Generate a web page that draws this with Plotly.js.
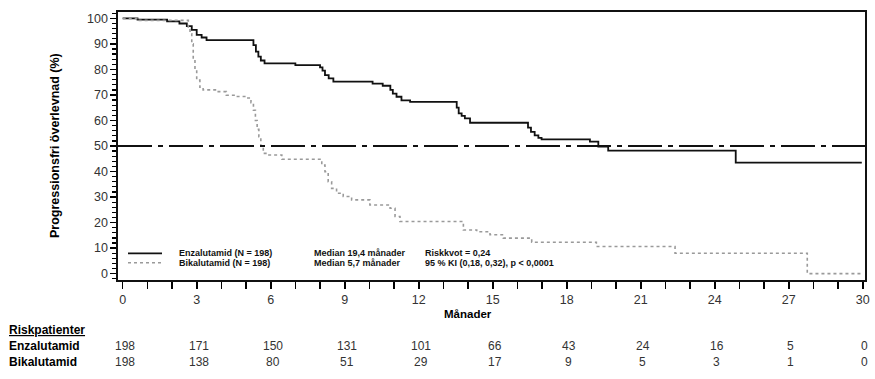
<!DOCTYPE html>
<html>
<head>
<meta charset="utf-8">
<script src="https://cdn.plot.ly/plotly-3.0.1.min.js"></script>
<style>html,body{margin:0;padding:0;background:#fff;}#chart{width:875px;height:379px;}</style>
</head>
<body>
<div id="chart"></div>
<script>
// ---- data ----
const enzaMonths = [0,0.6,1.8,2.3,2.6,2.8,3.0,3.2,3.4,5.3,5.4,5.5,5.6,5.75,7.0,8.0,8.1,8.2,8.35,8.54,10.13,10.54,10.85,10.95,11.1,11.3,11.65,13.54,13.62,13.74,13.87,14.08,16.43,16.55,16.7,16.85,16.98,18.94,19.28,19.68,24.85,29.96];
const enzaSurv   = [100,99.5,98.8,98,97,95.5,93.5,92.5,91.5,89.5,87,85,83.5,82.4,81.7,80.8,79.5,77.8,76.5,75.2,74.4,73.6,72,70.5,69.3,67.9,67.3,65,62.8,61.8,60.8,59.1,57.2,55.5,54.2,53.2,52.6,51.7,49.8,48.2,43.5,43.5];
const bikaMonths = [0,0.57,2.66,2.73,2.8,2.86,2.93,3.0,3.13,3.26,3.81,4.2,4.6,5.03,5.2,5.3,5.38,5.45,5.52,5.6,5.7,5.84,6.45,8.07,8.2,8.33,8.47,8.67,8.94,9.28,10.02,10.84,11.04,11.24,13.81,14.35,14.89,15.43,16.58,19.2,22.39,27.75,29.96];
const bikaSurv   = [100,99.2,96,94,90,84,80,75.8,73,72,71.3,69.9,69.4,68.8,67,64,60,56.5,53.6,50,47.1,46.5,44.8,42.5,39.9,36,33.4,31.5,30.2,28.9,26.9,25.6,22.4,20.4,17.1,16.4,15.2,13.9,12.3,10.6,8.0,0,0];
const medianLevel = 50;
const riskMonths = [0,3,6,9,12,15,18,21,24,27,30];
const riskEnza   = [198,171,150,131,101,66,43,24,16,5,0];
const riskBika   = [198,138,80,51,29,17,9,5,3,1,0];
const yTicks = [0,10,20,30,40,50,60,70,80,90,100];
const xTicks = [0,3,6,9,12,15,18,21,24,27,30];
const legendEnza = 'Enzalutamid (N = 198)';
const legendBika = 'Bikalutamid (N = 198)';
const medianEnza = 'Median 19,4 månader';
const medianBika = 'Median 5,7 månader';
const hrText = 'Riskkvot = 0,24';
const ciText = '95 % KI (0,18, 0,32), p < 0,0001';

// ---- layout helpers (pixel geometry) ----
const W = 875, H = 379;
const M = {l:118, r:10, t:12, b:99};
const plotBottom = H - M.b; // 280
function py(p){ return plotBottom - p; } // yshift relative to paper y=0
function px(p){ return p - M.l; }        // xshift relative to paper x=0

const NARROW = '"Liberation Sans Narrow", "Arial Narrow", "Liberation Sans", Arial, sans-serif';
const SANS = '"Liberation Sans", Arial, sans-serif';

const traces = [
  {x: enzaMonths, y: enzaSurv, type:'scatter', mode:'lines', line:{shape:'hv', color:'#111', width:1.8}, name:legendEnza, hoverinfo:'skip'},
  {x: bikaMonths, y: bikaSurv, type:'scatter', mode:'lines', line:{shape:'hv', color:'#9a9a9a', width:1.6, dash:'dot'}, name:legendBika, hoverinfo:'skip'}
];

const annotations = [];
function ann(o){ annotations.push(Object.assign({showarrow:false, xref:'paper', yref:'paper', x:0, y:0, yanchor:'middle'}, o)); }

// y title
ann({text:'<b>Progressionsfri överlevnad (%)</b>', textangle:-90, xanchor:'center', xshift:px(55), y:0.5, yshift:0, font:{family:NARROW, size:12.5, color:'#000'}});
// x title
ann({text:'<b>Månader</b>', xanchor:'left', xshift:px(442), yshift:py(314), font:{family:NARROW, size:11.5, color:'#000'}});
// risk table
const lblFont = {family:NARROW, size:12, color:'#000'};
const numFont = {family:NARROW, size:12, color:'#333'};
ann({text:'<b><u>Riskpatienter</u></b>', xanchor:'left', xshift:px(7), yshift:py(330), font:lblFont});
ann({text:'<b>Enzalutamid</b>', xanchor:'left', xshift:px(7), yshift:py(346), font:lblFont});
ann({text:'<b>Bikalutamid</b>', xanchor:'left', xshift:px(7), yshift:py(362), font:lblFont});
riskMonths.forEach((m,i)=>{
  ann({text:String(riskEnza[i]), xref:'x', x:m, xanchor:'center', xshift:2, yshift:py(346), font:numFont});
  ann({text:String(riskBika[i]), xref:'x', x:m, xanchor:'center', xshift:2, yshift:py(362), font:numFont});
});
// in-plot legend texts
const legFont = {family:SANS, size:9, color:'#111'};
ann({text:'<b>'+legendEnza+'</b>', xanchor:'left', xshift:px(177), yshift:py(253), font:legFont});
ann({text:'<b>'+legendBika+'</b>', xanchor:'left', xshift:px(177), yshift:py(263), font:legFont});
ann({text:'<b>'+medianEnza+'</b>', xanchor:'left', xshift:px(312), yshift:py(253), font:legFont});
ann({text:'<b>'+medianBika+'</b>', xanchor:'left', xshift:px(312), yshift:py(263), font:legFont});
ann({text:'<b>'+hrText+'</b>', xanchor:'left', xshift:px(423), yshift:py(253), font:legFont});
ann({text:'<b>'+ciText.replace('<','&lt;')+'</b>', xanchor:'left', xshift:px(423), yshift:py(263), font:legFont});

const pw = W - M.l - M.r, ph = H - M.t - M.b;
function xp(p){ return (p - M.l)/pw; }
function yp(p){ return (plotBottom - p)/ph; }

const shapes = [
  {type:'line', xref:'paper', yref:'y', x0:0, x1:1, y0:medianLevel, y1:medianLevel, line:{color:'#111', width:2, dash:'34px,6px,5px,6px'}},
  {type:'line', xref:'paper', yref:'paper', x0:xp(128), x1:xp(162), y0:yp(253.3), y1:yp(253.3), line:{color:'#111', width:1.8}},
  {type:'line', xref:'paper', yref:'paper', x0:xp(128), x1:xp(162), y0:yp(262.7), y1:yp(262.7), line:{color:'#9a9a9a', width:1.6, dash:'dot'}}
];

const layout = {
  width:W, height:H, margin:M, showlegend:false,
  paper_bgcolor:'#fff', plot_bgcolor:'#fff',
  xaxis:{range:[-0.19,30.09], tickvals:xTicks, ticktext:xTicks.map(String), ticks:'outside', ticklen:7, tickwidth:1.6, tickcolor:'#000',
         minor:{dtick:1, ticks:'outside', ticklen:7, tickwidth:1.6, tickcolor:'#000', showgrid:false},
         showline:true, linecolor:'#111', linewidth:1.6, mirror:true, showgrid:false, zeroline:false,
         tickfont:{family:NARROW, size:12.5, color:'#333'}},
  yaxis:{range:[-2.5,102.5], tickvals:yTicks, ticks:'outside', ticklen:6, tickwidth:1.6, tickcolor:'#000',
         minor:{dtick:2, tick0:0, ticks:'outside', ticklen:4, tickwidth:1.3, tickcolor:'#000', showgrid:false},
         showline:true, linecolor:'#111', linewidth:1.6, mirror:true, showgrid:false, zeroline:false,
         tickfont:{family:NARROW, size:12.5, color:'#333'}},
  annotations:annotations, shapes:shapes
};
Plotly.newPlot('chart', traces, layout, {displayModeBar:false, staticPlot:true});
</script>
</body>
</html>
